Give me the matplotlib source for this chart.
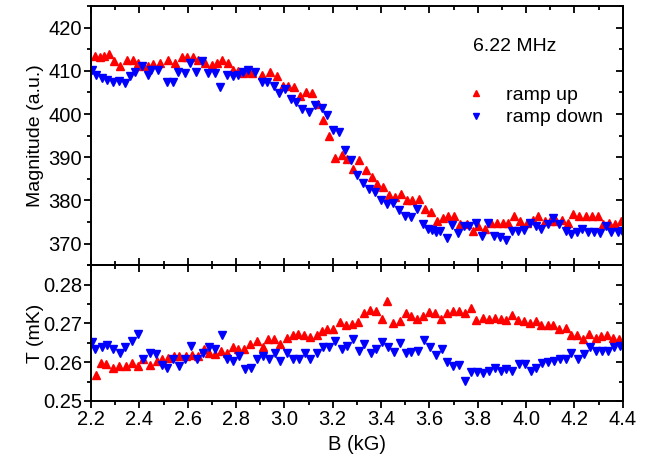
import matplotlib
matplotlib.use("Agg")
import matplotlib.pyplot as plt
from matplotlib.ticker import MultipleLocator

plt.rcParams["font.family"] = ["Liberation Sans", "DejaVu Sans"]
plt.rcParams["font.size"] = 14

# ---- top panel: magnitude vs field ----
mag_up_B = [2.217, 2.237, 2.254, 2.276, 2.296, 2.32, 2.348, 2.372, 2.396, 2.417, 2.437, 2.458,
            2.485, 2.52, 2.547, 2.575, 2.596, 2.623, 2.644, 2.671, 2.699, 2.72, 2.74, 2.768,
            2.789, 2.81, 2.83, 2.85, 2.865, 2.906, 2.94, 2.968, 2.993, 3.016, 3.04, 3.064,
            3.089, 3.113, 3.14, 3.161, 3.186, 3.209, 3.237, 3.26, 3.285, 3.31, 3.337, 3.361,
            3.384, 3.409, 3.434, 3.457, 3.482, 3.506, 3.53, 3.558, 3.581, 3.606, 3.632, 3.655,
            3.678, 3.703, 3.727, 3.754, 3.779, 3.802, 3.83, 3.857, 3.878, 3.903, 3.926, 3.95,
            3.974, 4.002, 4.027, 4.05, 4.077, 4.098, 4.126, 4.15, 4.174, 4.195, 4.22, 4.247,
            4.271, 4.298, 4.319, 4.344, 4.367, 4.392]
mag_up = [413.5, 413.3, 413.5, 414.0, 412.2, 411.2, 412.6, 412.6, 411.8, 411.0, 411.2, 411.5,
          411.8, 412.6, 411.8, 413.2, 413.3, 413.2, 412.4, 411.8, 411.4, 411.8, 412.6, 411.8,
          410.2, 410.0, 409.5, 409.8, 409.5, 409.1, 409.7, 408.7, 406.5, 406.5, 406.3, 404.2,
          405.2, 404.8, 402.3, 398.6, 394.9, 389.9, 390.5, 389.5, 387.4, 389.3, 387.0, 385.4,
          383.9, 383.1, 381.2, 380.8, 381.6, 380.2, 380.0, 380.4, 378.1, 377.3, 375.2, 376.0,
          376.3, 376.5, 374.6, 374.6, 372.9, 374.2, 373.4, 374.7, 374.9, 374.7, 374.9, 376.5,
          375.2, 374.9, 375.5, 376.3, 375.3, 375.3, 375.3, 375.5, 374.9, 376.9, 376.5, 376.5,
          376.5, 376.5, 374.6, 374.9, 374.6, 375.2]

mag_down_B = [2.205, 2.222, 2.244, 2.265, 2.292, 2.317, 2.34, 2.361, 2.382, 2.41, 2.437, 2.45,
              2.478, 2.513, 2.538, 2.561, 2.589, 2.61, 2.634, 2.658, 2.685, 2.713, 2.733, 2.761,
              2.789, 2.81, 2.83, 2.85, 2.878, 2.906, 2.927, 2.957, 2.979, 3.002, 3.026, 3.048,
              3.075, 3.103, 3.126, 3.154, 3.177, 3.202, 3.227, 3.25, 3.274, 3.301, 3.326, 3.35,
              3.375, 3.399, 3.425, 3.45, 3.475, 3.499, 3.522, 3.547, 3.572, 3.595, 3.609, 3.627,
              3.646, 3.671, 3.695, 3.719, 3.742, 3.764, 3.792, 3.816, 3.843, 3.867, 3.891, 3.916,
              3.944, 3.967, 3.99, 4.015, 4.04, 4.064, 4.089, 4.112, 4.137, 4.164, 4.188, 4.209,
              4.233, 4.257, 4.28, 4.305, 4.33, 4.352, 4.38, 4.398]
mag_down = [410.2, 409.0, 408.3, 407.9, 407.5, 407.6, 407.1, 408.7, 409.8, 411.0, 409.1, 410.2,
            410.2, 407.5, 407.5, 409.8, 409.5, 411.8, 409.8, 412.2, 409.5, 409.5, 406.3, 409.0,
            408.7, 409.0, 409.8, 410.2, 409.8, 407.5, 407.5, 406.5, 404.8, 405.7, 403.4, 402.9,
            401.1, 400.5, 402.1, 401.3, 399.8, 396.3, 395.9, 391.6, 389.3, 385.8, 384.0, 382.7,
            381.9, 380.0, 379.2, 379.4, 377.8, 376.3, 376.1, 378.1, 374.6, 373.4, 373.2, 372.6,
            373.0, 371.3, 374.4, 372.4, 374.2, 374.2, 374.9, 371.9, 374.9, 371.9, 371.6, 370.9,
            373.0, 373.0, 373.2, 374.7, 374.2, 373.4, 374.6, 376.0, 374.6, 373.0, 372.3, 372.6,
            373.4, 372.6, 372.6, 372.4, 374.2, 372.6, 372.6, 373.0]

# ---- bottom panel: temperature vs field ----
T_up_B = [2.221, 2.24, 2.262, 2.29, 2.317, 2.345, 2.368, 2.396, 2.416, 2.444, 2.472, 2.492,
          2.52, 2.543, 2.565, 2.593, 2.616, 2.644, 2.668, 2.689, 2.713, 2.736, 2.761, 2.786,
          2.809, 2.834, 2.858, 2.885, 2.91, 2.933, 2.958, 2.982, 3.009, 3.034, 3.057, 3.082,
          3.106, 3.134, 3.154, 3.177, 3.202, 3.23, 3.255, 3.28, 3.306, 3.33, 3.354, 3.379,
          3.402, 3.425, 3.45, 3.478, 3.503, 3.526, 3.549, 3.574, 3.599, 3.623, 3.65, 3.674,
          3.698, 3.723, 3.747, 3.774, 3.795, 3.823, 3.847, 3.871, 3.896, 3.919, 3.944, 3.967,
          3.992, 4.016, 4.043, 4.064, 4.089, 4.112, 4.137, 4.164, 4.188, 4.211, 4.236, 4.261,
          4.288, 4.312, 4.337, 4.36, 4.385]
T_up = [0.2567, 0.2597, 0.2595, 0.2586, 0.2591, 0.2589, 0.2599, 0.2591, 0.2608, 0.2592, 0.2603, 0.2608,
        0.2612, 0.2615, 0.2616, 0.2615, 0.2618, 0.2616, 0.2633, 0.2623, 0.2621, 0.2629, 0.2623, 0.2640,
        0.2633, 0.2635, 0.2646, 0.2655, 0.2640, 0.2659, 0.2659, 0.2646, 0.2663, 0.2669, 0.2672, 0.2669,
        0.2666, 0.2669, 0.2680, 0.2685, 0.2685, 0.2704, 0.2695, 0.2698, 0.2703, 0.2727, 0.2734, 0.2732,
        0.2712, 0.2757, 0.2700, 0.2706, 0.2726, 0.2719, 0.2712, 0.2720, 0.2729, 0.2726, 0.2712, 0.2726,
        0.2732, 0.2732, 0.2727, 0.2740, 0.2710, 0.2715, 0.2712, 0.2715, 0.2712, 0.2710, 0.2723, 0.2710,
        0.2706, 0.2702, 0.2706, 0.2697, 0.2697, 0.2695, 0.2685, 0.2689, 0.2669, 0.2669, 0.2661, 0.2672,
        0.2663, 0.2667, 0.2669, 0.2663, 0.2659]

T_down_B = [2.203, 2.217, 2.244, 2.267, 2.292, 2.32, 2.341, 2.368, 2.396, 2.416, 2.444, 2.469,
            2.492, 2.516, 2.54, 2.565, 2.589, 2.612, 2.637, 2.662, 2.689, 2.713, 2.741, 2.761,
            2.789, 2.813, 2.837, 2.86, 2.885, 2.91, 2.937, 2.96, 2.984, 3.012, 3.037, 3.061,
            3.085, 3.108, 3.134, 3.161, 3.186, 3.209, 3.237, 3.26, 3.285, 3.31, 3.33, 3.357,
            3.379, 3.402, 3.43, 3.453, 3.478, 3.503, 3.526, 3.554, 3.577, 3.602, 3.627, 3.654,
            3.674, 3.698, 3.723, 3.747, 3.772, 3.798, 3.823, 3.847, 3.871, 3.896, 3.919, 3.944,
            3.97, 3.995, 4.02, 4.043, 4.068, 4.091, 4.116, 4.14, 4.164, 4.188, 4.215, 4.24,
            4.266, 4.291, 4.316, 4.339, 4.363, 4.388]
T_down = [0.2652, 0.2633, 0.2638, 0.2644, 0.2633, 0.2623, 0.2638, 0.2655, 0.2672, 0.2609, 0.2625, 0.2621,
          0.2592, 0.2586, 0.2608, 0.2591, 0.2609, 0.2642, 0.2608, 0.2625, 0.2638, 0.2633, 0.2669, 0.2609,
          0.2603, 0.2616, 0.2582, 0.2586, 0.2608, 0.2616, 0.2608, 0.2623, 0.2603, 0.2625, 0.2609, 0.2608,
          0.2623, 0.2609, 0.2623, 0.2640, 0.2640, 0.2655, 0.2635, 0.2642, 0.2659, 0.2629, 0.2646, 0.2623,
          0.2635, 0.2652, 0.2638, 0.2626, 0.2650, 0.2623, 0.2626, 0.2629, 0.2657, 0.2638, 0.2618, 0.2633,
          0.2601, 0.2589, 0.2592, 0.2552, 0.2574, 0.2575, 0.2572, 0.2578, 0.2586, 0.2578, 0.2582, 0.2578,
          0.2595, 0.2595, 0.2578, 0.2586, 0.2599, 0.2601, 0.2603, 0.2608, 0.2609, 0.2625, 0.2609, 0.2621,
          0.2638, 0.2629, 0.2629, 0.2629, 0.2638, 0.2642]

RED, BLUE = "#ff0000", "#0000ff"
MS = 6.2
TICK_FS = 14.5

fig, (ax1, ax2) = plt.subplots(2, 1, sharex=True, figsize=(6.5, 4.59), dpi=100,
                               gridspec_kw={"height_ratios": [258.7, 135.3], "hspace": 0})
fig.subplots_adjust(left=0.14, right=0.958, top=0.987, bottom=0.1264)

ax1.plot(mag_up_B, mag_up, ls="none", marker="^", ms=MS, color=RED, mec=RED, label="ramp up")
ax1.plot(mag_down_B, mag_down, ls="none", marker="v", ms=MS, color=BLUE, mec=BLUE, label="ramp down")
ax2.plot(T_up_B, T_up, ls="none", marker="^", ms=MS, color=RED, mec=RED)
ax2.plot(T_down_B, T_down, ls="none", marker="v", ms=MS, color=BLUE, mec=BLUE)

ax1.set_ylim(365, 425)
ax1.yaxis.set_minor_locator(MultipleLocator(5))
ax1.set_yticks([370, 380, 390, 400, 410, 420])
ax2.set_ylim(0.25, 0.285)
ax2.yaxis.set_minor_locator(MultipleLocator(0.005))
ax2.set_yticks([0.25, 0.26, 0.27, 0.28])
ax2.set_xlim(2.2, 4.4)
ax2.xaxis.set_major_locator(MultipleLocator(0.2))
ax2.xaxis.set_minor_locator(MultipleLocator(0.1))
ax2.yaxis.set_major_formatter(plt.FormatStrFormatter("%.2f"))
ax2.xaxis.set_major_formatter(plt.FormatStrFormatter("%.1f"))

for ax in (ax1, ax2):
    for s in ax.spines.values():
        s.set_linewidth(1.4)
    ax.tick_params(which="both", width=1.3, labelsize=TICK_FS, pad=1.5)
    ax.tick_params(which="major", length=5)
    ax.tick_params(which="minor", length=3)
    ax.tick_params(axis="y", which="both", left=True, right=False, direction="out")
    ax.tick_params(axis="x", which="both", top=True, bottom=True)

# mirrored ticks point inward; outer ticks point outward
ax1.tick_params(axis="x", which="both", direction="in", labelbottom=False)
ax2.tick_params(axis="x", which="both", direction="out", top=False)
for ax in (ax1, ax2):
    sec = ax.secondary_yaxis("right")
    sec.set_yticks(ax.get_yticks())
    sec.yaxis.set_minor_locator(ax.yaxis.get_minor_locator())
    sec.tick_params(which="both", direction="in", width=1.3, labelright=False)
    sec.tick_params(which="major", length=5)
    sec.tick_params(which="minor", length=3)
    sec.spines["right"].set_linewidth(1.4)
sec2 = ax2.secondary_xaxis("top")
sec2.xaxis.set_minor_locator(MultipleLocator(0.1))
sec2.xaxis.set_major_locator(MultipleLocator(0.2))
sec2.tick_params(which="both", direction="in", width=1.3, labeltop=False)
sec2.tick_params(which="major", length=5)
sec2.tick_params(which="minor", length=3)
sec2.spines["top"].set_linewidth(1.4)

ax1.set_ylabel("Magnitude (a.u.)", fontsize=14)
ax2.set_ylabel("T (mK)", fontsize=14)
ax1.yaxis.set_label_coords(-0.088, 0.5)
ax2.yaxis.set_label_coords(-0.088, 0.5)
ax2.set_xlabel("B (kG)", fontsize=14.5, labelpad=4)

ax1.text(0.797, 0.842, "6.22 MHz", transform=ax1.transAxes, ha="center", va="center", fontsize=14)
ax1.legend(loc="upper left", bbox_to_anchor=(0.702, 0.69), frameon=False, fontsize=14,
           markerscale=0.7, handlelength=1.2, handletextpad=0.95, labelspacing=0.25,
           borderaxespad=0, borderpad=0)

fig.savefig("out.png", dpi=100)
